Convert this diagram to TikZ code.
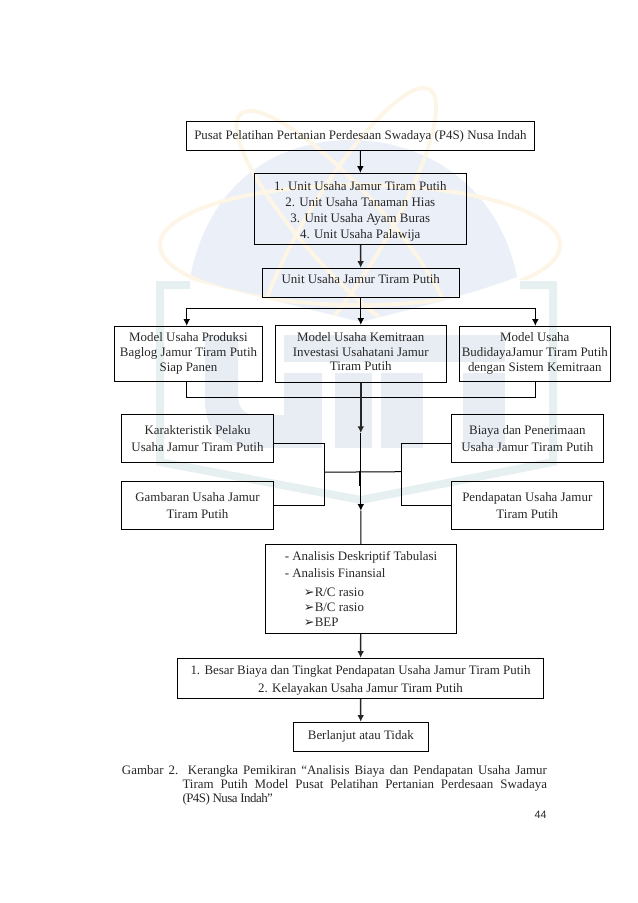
\documentclass[tikz,border=0pt]{standalone}
\usepackage{fontspec}
\setmainfont{Liberation Serif}
\newfontfamily\bulletfont{DejaVu Sans}
\newfontfamily\pagefont{Liberation Sans}
\usepackage{xcolor}
\usetikzlibrary{arrows.meta}
\definecolor{textgray}{HTML}{262626}
\definecolor{domeblue}{HTML}{EBEFF8}
\definecolor{orbitorange}{HTML}{FDF5E6}
\definecolor{framegreen}{HTML}{E6F0F1}
\definecolor{letterblue}{HTML}{E8EDF4}
\tikzset{
  boxnode/.style={draw,rectangle,inner sep=0pt,align=center,text=textgray,line width=0.75pt,font=\fontsize{9.7}{12}\selectfont},
  tightnode/.style={boxnode,font=\fontsize{9.7}{11.25}\selectfont},
  widenode/.style={boxnode,font=\fontsize{9.7}{13}\selectfont},
  link/.style={->,line width=0.75pt},
  thicklink/.style={->,line width=1.1pt,draw=black!85},
  plainlink/.style={line width=0.75pt},
  orbit/.style={draw=orbitorange,line width=3pt},
}
\newcommand{\ratiomark}{\hspace*{14.25pt}\makebox[8.25pt][l]{\bulletfont\fontsize{9.5}{11.25}\selectfont ➢}}
\begin{document}
\begin{tikzpicture}[x=0.75pt,y=-0.75pt,>={Latex[length=5pt,width=5pt]}]
\useasboundingbox (0,0) rectangle (638,903);
\fill[domeblue] (190,278) .. controls (210,175) and (285,140) .. (350,140) .. controls (430,140) and (500,190) .. (517,277) .. controls (470,295) and (400,312) .. (361,322) .. controls (320,312) and (250,295) .. (190,278) -- cycle;
\begin{scope}
\clip (0,0) -- (638,0) -- (638,280) -- (517,280) -- (361,322) -- (190,280) -- (0,280) -- cycle;
\draw[orbit] (360,245) ellipse [x radius=150pt,y radius=45pt];
\draw[orbit,rotate around={-48:(345,230)}] (345,230) ellipse [x radius=117pt,y radius=30pt];
\draw[orbit,rotate around={59:(345,230)}] (345,230) ellipse [x radius=123pt,y radius=30pt];
\end{scope}
\draw[framegreen,line width=6pt] (190,285) -- (160,285) -- (160,462) -- (361,500) -- (553,462) -- (553,285) -- (520,285);
\fill[letterblue] (205,335) -- (205,400) .. controls (205,435) and (225,448) .. (255,448) -- (322,448) -- (322,373) -- (284,373) -- (284,415) -- (255,415) .. controls (245,415) and (238,408) .. (238,395) -- (238,335) -- cycle;
\fill[letterblue] (335,373) rectangle (372,448);
\fill[letterblue] (381,373) rectangle (423,448);
\fill[letterblue] (463,373) rectangle (505,448);
\fill[letterblue] (284,335) rectangle (505,362);

\node[boxnode,minimum width=261.5pt,minimum height=21.75pt] (ps) at (360.4,136.2) {Pusat Pelatihan Pertanian Perdesaan Swadaya (P4S) Nusa Indah};
\node[boxnode,minimum width=159pt,minimum height=53.25pt] (un) at (360.3,208.8) {\rule{0pt}{10.4pt}1. Unit Usaha Jamur Tiram Putih\\2. Unit Usaha Tanaman Hias\\3. Unit Usaha Ayam Buras\\4. Unit Usaha Palawija};
\node[boxnode,text depth=5pt,minimum width=147.75pt,minimum height=21.75pt] (uj) at (360.8,282.8) {Unit Usaha Jamur Tiram Putih};
\node[tightnode,minimum width=111.3pt,minimum height=41.25pt] (pr) at (188.5,353.8) {Model Usaha Produksi\\Baglog Jamur Tiram Putih\\Siap Panen};
\node[tightnode,font=\fontsize{9.7}{11}\selectfont,minimum width=128.25pt,minimum height=42.75pt] (km) at (360.8,353.8) {Model Usaha Kemitraan\\Investasi Usahatani Jamur\\Tiram Putih\rule[-3pt]{0pt}{3pt}};
\node[tightnode,minimum width=113.25pt,minimum height=41.25pt] (bd) at (534.8,353.8) {Model Usaha\\BudidayaJamur Tiram Putih\\dengan Sistem Kemitraan};
\node[widenode,minimum width=114.3pt,minimum height=36pt] (kp) at (197.5,438.3) {Karakteristik Pelaku\\Usaha Jamur Tiram Putih};
\node[widenode,minimum width=114.3pt,minimum height=36pt] (gu) at (197.5,505.3) {Gambaran Usaha Jamur\\Tiram Putih};
\node[widenode,minimum width=114pt,minimum height=36pt] (bp) at (527.3,438.3) {Biaya dan Penerimaan\\Usaha Jamur Tiram Putih};
\node[widenode,minimum width=114pt,minimum height=36pt] (pu) at (527.3,505.3) {Pendapatan Usaha Jamur\\Tiram Putih};
\node[tightnode,align=left,minimum width=143.5pt,minimum height=66.75pt] (an) at (361,588.8) {- Analisis Deskriptif Tabulasi\\[1.75pt]- Analisis Finansial\\[2.75pt]\ratiomark R/C rasio\\\ratiomark B/C rasio\\\ratiomark BEP};
\node[widenode,minimum width=274.8pt,minimum height=30pt] (bb) at (360.5,678.3) {\rule{0pt}{10pt}1. Besar Biaya dan Tingkat Pendapatan Usaha Jamur Tiram Putih\\2. Kelayakan Usaha Jamur Tiram Putih};
\node[boxnode,minimum width=101.25pt,minimum height=21.75pt] (bt) at (360.8,736.8) {Berlanjut atau Tidak};
\node[anchor=north west,inner sep=0pt,text width=318.75pt,align=justify,text=textgray,font=\fontsize{9.7}{10.5}\selectfont] (cp) at (121.7,765) {\hangindent=45.4pt\hangafter=1 Gambar 2. Kerangka Pemikiran “Analisis Biaya dan Pendapatan Usaha Jamur\linebreak Tiram Putih Model Pusat Pelatihan Pertanian Perdesaan Swadaya\linebreak {\addfontfeature{LetterSpace=-4}(P4S) Nusa Indah”}\par};
\node[anchor=east,inner sep=0pt,text=textgray,font=\pagefont\fontsize{8}{10}\selectfont] (pg) at (546.7,815) {44};

\coordinate (bj) at (360.8,308.3);
\coordinate (mj) at (360.8,397.3);
\coordinate (ma) at (360.8,433);
\coordinate (mb) at (360.8,510.7);
\coordinate (jl) at (324.3,472.2);
\coordinate (jr) at (401.7,471.7);
\coordinate (jc) at (360.3,471);
\coordinate (jd) at (360.3,486);

\draw[link] (ps) -- (un);
\draw[thicklink] (un) -- (uj);
\draw[plainlink] (uj) -- (bj);
\draw[link] (bj) -| ([xshift=-1.35pt]pr.north);
\draw[link] (bj) -- (km);
\draw[link] (bj) -| ([xshift=0.4pt]bd.north);
\draw[plainlink] ([xshift=-1.35pt]pr.south) |- (mj) -| ([xshift=0.4pt]bd.south);
\draw[thicklink] (km) -- (ma);
\draw[link] (ma) -- (mb);
\draw[plainlink] (mb) -- (an);
\draw[plainlink] ([yshift=-3.75pt]kp.east) -| (jl);
\draw[plainlink] ([yshift=-0.5pt]gu.east) -| (jl);
\draw[plainlink] ([yshift=-3.75pt]bp.west) -| (jr);
\draw[plainlink] ([yshift=-0.5pt]pu.west) -| (jr);
\draw[plainlink] (jl) -- (jr);
\draw[line width=1.3pt] (jc) -- (jd);
\draw[thicklink] (an) -- (bb);
\draw[thicklink] (bb) -- (bt);
\end{tikzpicture}
\end{document}
